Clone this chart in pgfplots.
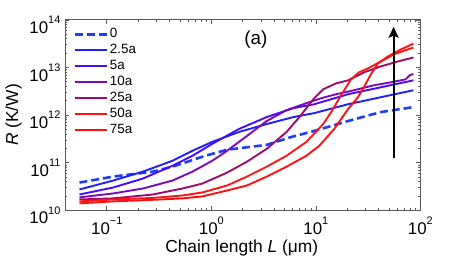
\documentclass[border=0pt]{standalone}
\usepackage{fontspec}
\setmainfont{Liberation Sans}
\usepackage{pgfplots}
\pgfplotsset{compat=1.18}
\usetikzlibrary{arrows.meta}
\definecolor{c0}{RGB}{30,60,255}
\definecolor{c1}{RGB}{30,30,255}
\definecolor{c2}{RGB}{70,10,255}
\definecolor{c3}{RGB}{120,10,190}
\definecolor{c4}{RGB}{160,10,110}
\definecolor{c5}{RGB}{255,20,20}
\definecolor{c6}{RGB}{255,15,15}
\newcommand{\ee}[1]{10\raisebox{10bp}{\fontsize{11bp}{11bp}\selectfont #1}}
\begin{document}
\fontsize{17bp}{20bp}\selectfont
\begin{tikzpicture}
\path (-62bp,-50bp) rectangle (401bp,212bp);
\begin{axis}[
  at={(0,0)}, anchor=south west,
  scale only axis, width=358bp, height=192bp,
  xmode=log, ymode=log,
  xmin=0.04, xmax=100, ymin=1e10, ymax=1e14,
  xtick={0.1,1,10,100},
  xticklabels={\ee{\char"2212 1},\ee{0},\ee{1},\ee{2}},
  ytick={1e10,1e11,1e12,1e13,1e14},
  yticklabels={\ee{10},\ee{11},\ee{12},\ee{13},\ee{14}},
  tick label style={font=\fontsize{17bp}{17bp}\selectfont},
  xticklabel style={yshift=-1bp},
  yticklabel style={xshift=1bp, yshift=-5bp},
  axis line style={draw=black!65, line width=0.8bp},
  every tick/.style={draw=black!65, line width=0.6bp},
  major tick length=4bp, minor tick length=2bp,
  tick align=inside,
  xlabel={Chain length \textit{L} (μm)},
  ylabel={\textit{R} (K/W)},
  xlabel style={at={(axis description cs:0.497,-0.198)}, anchor=center, font=\fontsize{17.5bp}{20bp}\selectfont},
  ylabel style={at={(axis description cs:-0.145,0.5)}, anchor=center, font=\fontsize{17.5bp}{20bp}\selectfont},
  legend cell align=left,
  legend style={draw=none, fill=none, at={(axis description cs:0.025,0.965)}, anchor=north west,
    inner sep=0pt, outer sep=0pt, row sep=0pt,
    font=\fontsize{13.5bp}{14bp}\selectfont,
    nodes={inner sep=1.5bp, text height=10bp, text depth=3bp}},
  legend image code/.code={\draw[#1] (0bp,0bp) -- (32bp,0bp);},
]
\addplot[c0, line width=2.6bp, dash pattern=on 8bp off 4bp] coordinates {
(0.0548,3.83e10) (0.1153,5.11e10) (0.276,6.49e10) (0.4266,8.25e10) (0.877,1.40e11)
(1.418,1.87e11) (3.395,2.37e11) (5.86,3.48e11) (9.68,4.64e11) (20.33,7.50e11)
(41.8,1.155e12) (85.9,1.47e12)};
\addlegendentry{0}
\addplot[c1, line width=1.9bp] coordinates {
(0.0548,2.74e10) (0.1153,4.22e10) (0.2218,6.49e10) (0.4266,1.10e11) (0.6607,1.78e11)
(1.022,2.74e11) (1.842,4.42e11) (3.395,6.49e11) (6.12,9.09e11) (9.68,1.10e12)
(20.33,1.69e12) (41.8,2.37e12) (85.9,3.32e12)};
\addlegendentry{2.5a}
\addplot[c2, line width=1.9bp] coordinates {
(0.0548,2.15e10) (0.1153,3.01e10) (0.2218,4.64e10) (0.4266,8.66e10) (0.6607,1.40e11)
(1.022,2.49e11) (1.842,5.11e11) (3.395,9.09e11) (6.12,1.40e12) (9.68,1.69e12)
(20.33,2.74e12) (41.8,3.83e12) (85.9,5.36e12)};
\addlegendentry{5a}
\addplot[c3, line width=1.9bp] coordinates {
(0.0548,1.87e10) (0.1153,2.26e10) (0.2218,2.87e10) (0.4266,4.22e10) (0.6607,6.49e10)
(1.022,1.10e11) (1.418,1.78e11) (2.194,3.65e11) (3.395,7.50e11) (5.25,1.27e12)
(8.13,1.78e12) (11.27,2.26e12) (15.64,2.74e12) (23.2,3.32e12) (35.9,4.22e12)
(52.0,4.87e12) (72.1,5.62e12) (79.5,6.9e12) (85.9,7.3e12)};
\addlegendentry{10a}
\addplot[c4, line width=1.9bp] coordinates {
(0.0548,1.69e10) (0.1153,1.78e10) (0.276,2.15e10) (0.531,2.87e10) (0.822,3.65e10)
(1.418,6.19e10) (2.194,1.05e11) (3.395,1.96e11) (5.25,4.42e11) (6.98,9.09e11)
(9.47,2.15e12) (11.78,3.48e12) (15.64,4.64e12) (20.33,5.36e12) (28.8,7.87e12)
(41.8,1.05e13) (60.5,1.33e13) (85.9,1.62e13)};
\addlegendentry{25a}
\addplot[c5, line width=1.9bp] coordinates {
(0.0548,1.54e10) (0.1153,1.69e10) (0.276,1.82e10) (0.531,2.05e10) (0.822,2.37e10)
(1.418,3.32e10) (2.194,5.11e10) (3.395,8.25e10) (5.25,1.40e11) (8.13,2.74e11)
(11.78,6.49e11) (14.03,1.155e12) (17.45,2.61e12) (21.7,5.62e12) (25.8,7.87e12)
(31.5,9.53e12) (41.8,1.33e13) (55.5,1.87e13) (72.1,2.30e13) (85.9,2.61e13)};
\addlegendentry{50a}
\addplot[c6, line width=1.9bp] coordinates {
(0.0548,1.40e10) (0.1153,1.54e10) (0.276,1.66e10) (0.531,1.78e10) (0.822,1.96e10)
(1.418,2.61e10) (2.194,3.32e10) (3.395,5.11e10) (5.25,8.25e10) (8.13,1.40e11)
(10.8,2.26e11) (15.0,5.11e11) (20.33,1.33e12) (25.3,2.37e12) (28.8,3.83e12)
(33.6,7.15e12) (39.1,1.21e13) (48.7,1.69e13) (64.6,2.37e13) (85.9,3.16e13)};
\addlegendentry{75a}
\node[font=\fontsize{19bp}{20bp}\selectfont] at (axis cs:2.67,3.83e13) {(a)};
\draw[line width=2bp, -{Stealth[length=11bp,width=10bp,inset=2bp]}] (axis cs:55.5,1.27e11) -- (axis cs:55.5,7.15e13);
\end{axis}
\end{tikzpicture}
\end{document}
